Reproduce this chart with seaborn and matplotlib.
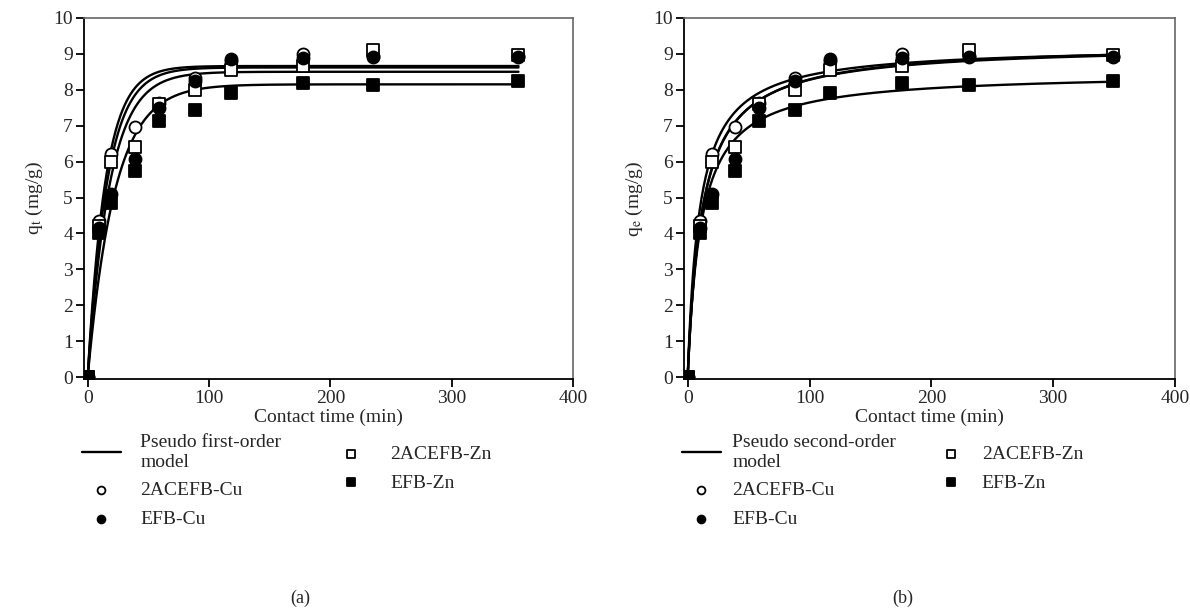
import matplotlib
matplotlib.use("Agg")
import matplotlib.pyplot as plt
import numpy as np
import pandas as pd
import seaborn as sns

# contact times (min)
time_a = [0, 9.5, 19.5, 39, 59, 88.5, 118, 177.5, 235.5, 355]
time_b = [0, 9.8, 19.7, 39, 58.6, 88, 117, 176, 231, 349]

# measured uptake q (mg/g)
q_2acefb_cu = [0, 4.35, 6.2, 6.95, 7.63, 8.33, 8.8, 8.99, 8.95, 8.95]
q_2acefb_zn = [0, 4.2, 6.0, 6.4, 7.6, 8.0, 8.55, 8.65, 9.1, 8.97]
q_efb_cu = [0, 4.15, 5.1, 6.07, 7.5, 8.24, 8.85, 8.88, 8.92, 8.9]
q_efb_zn = [0, 4.0, 4.85, 5.73, 7.14, 7.45, 7.9, 8.2, 8.12, 8.23]

series_names = ["2ACEFB-Cu", "2ACEFB-Zn", "EFB-Cu", "EFB-Zn"]

# fitted model parameters (same order as series_names)
pfo_qe = [8.66, 8.50, 8.62, 8.15]
pfo_k1 = [0.068, 0.055, 0.062, 0.045]
pso_qe = [9.22, 9.28, 9.25, 8.48]
pso_k2 = [0.0112, 0.009, 0.0092, 0.0108]

markers = {"2ACEFB-Cu": ("o", "white"), "2ACEFB-Zn": ("s", "white"),
           "EFB-Cu": ("o", "black"), "EFB-Zn": ("s", "black")}

sns.set_style("ticks")
plt.rcParams["font.family"] = ["Liberation Serif", "DejaVu Serif"]
plt.rcParams["mathtext.fontset"] = "stix"

fig = plt.figure(figsize=(11.9, 6.1), dpi=100)
ax_a = fig.add_axes([0.0706, 0.3787, 0.411, 0.592])
ax_b = fig.add_axes([0.5748, 0.3787, 0.4126, 0.592])

q_all = [q_2acefb_cu, q_2acefb_zn, q_efb_cu, q_efb_zn]


def draw_panel(ax, times, curve_fn, qe_list, k_list, model_label, ylabel, colspace, textpad):
    t_fit = np.linspace(0, max(times), 400)
    for i, (qe, k) in enumerate(zip(qe_list, k_list)):
        sns.lineplot(x=t_fit, y=curve_fn(t_fit, qe, k), ax=ax, color="black", lw=1.7,
                     label=model_label if i == 0 else None, zorder=2, sort=False)
    df = pd.DataFrame({"t": np.tile(times, 4), "q": np.concatenate(q_all),
                       "sample": np.repeat(series_names, len(times))})
    for name in series_names:
        m, fc = markers[name]
        sub = df[df["sample"] == name]
        sns.scatterplot(data=sub, x="t", y="q", ax=ax, marker=m, s=75, color=fc,
                        edgecolor="black", linewidth=1.3, zorder=3, label=name)
    ax.set_xlim(-3, 400)
    ax.set_ylim(-0.05, 10)
    ax.set_xticks(range(0, 401, 100))
    ax.set_yticks(range(0, 11))
    ax.set_xlabel("Contact time (min)", fontsize=14, labelpad=1)
    ax.set_ylabel(ylabel, fontsize=14, labelpad=6)
    ax.tick_params(labelsize=14, direction="out", length=6, width=1.3, color="black", pad=2)
    for side in ["left", "bottom"]:
        ax.spines[side].set_color("black")
        ax.spines[side].set_linewidth(1.3)
    for side in ["top", "right"]:
        ax.spines[side].set_visible(True)
        ax.spines[side].set_color("#666666")
        ax.spines[side].set_linewidth(1.2)
    h, l = ax.get_legend_handles_labels()
    order = [l.index(model_label)] + [l.index(n) for n in ["2ACEFB-Cu", "EFB-Cu", "2ACEFB-Zn", "EFB-Zn"]]
    labels = [l[j] for j in order]
    labels[0] = labels[0].replace(" model", "\nmodel")
    ax.legend([h[j] for j in order], labels, ncol=2, frameon=False, fontsize=14,
              loc="upper left", bbox_to_anchor=(-0.04, -0.105), markerscale=0.65,
              handlelength=2.0, columnspacing=colspace, labelspacing=0.55,
              handletextpad=textpad)


def pfo(t, qe, k):
    return qe * (1 - np.exp(-k * t))


def pso(t, qe, k):
    return qe * qe * k * t / (1 + qe * k * t)


draw_panel(ax_a, time_a, pfo, pfo_qe, pfo_k1, "Pseudo first-order model",
           r"q$_\mathrm{t}$ (mg/g)", 2.6, 1.0)
draw_panel(ax_b, time_b, pso, pso_qe, pso_k2, "Pseudo second-order model",
           r"q$_\mathrm{e}$ (mg/g)", 1.8, 0.6)

fig.text(0.2525, 0.012, "(a)", ha="center", fontsize=13)
fig.text(0.759, 0.012, "(b)", ha="center", fontsize=13)

fig.savefig("out.png", dpi=100)
